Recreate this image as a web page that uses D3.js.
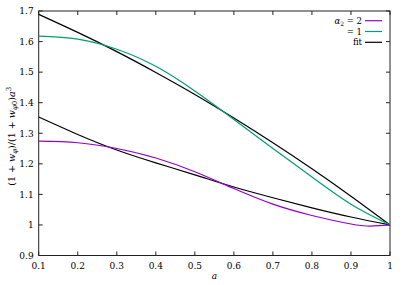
<!DOCTYPE html>
<html><head><meta charset="utf-8">
<script src="https://cdn.jsdelivr.net/npm/d3@7"></script>
<style>body{margin:0;background:#fff} text{font-family:"DejaVu Serif","Liberation Serif",serif}</style>
</head><body><svg id="c" width="407" height="285"></svg>
<script>
const xTicks = [0.1,0.2,0.3,0.4,0.5,0.6,0.7,0.8,0.9,1];
const yTicks = [0.9,1,1.1,1.2,1.3,1.4,1.5,1.6,1.7];
const seriesNames = ["α2 = 2", "= 1", "fit"];
const aGrid = [0.1,0.2,0.3,0.4,0.5,0.6,0.7,0.8,0.9,1.0];
// alpha2 = 2 (purple)
const aPurple = [0.1,0.2,0.3,0.4,0.5,0.6,0.7,0.8,0.9,0.95,1.0];
const vPurple = [1.274,1.269,1.250,1.219,1.174,1.119,1.068,1.031,1.003,0.996,1.0];
// alpha2 = 1 (green)
const vGreen = [1.618,1.608,1.575,1.519,1.438,1.345,1.250,1.157,1.068,1.0];
// fits (black)
const vFitUp = [1.689,1.630,1.567,1.499,1.427,1.350,1.269,1.184,1.094,1.0];
const vFitLo = [1.353,1.296,1.245,1.203,1.164,1.124,1.089,1.056,1.026,1.0];

const svg = d3.select("#c");
const L=38.7, R=390, T=11, B=255.5;
const x = d3.scaleLinear().domain([0.1,1]).range([L,R]);
const y = d3.scaleLinear().domain([0.9,1.7]).range([B,T]);

const ax = svg.append("g").attr("font-size",9).attr("fill","#000");
svg.append("rect").attr("x",L).attr("y",T).attr("width",R-L).attr("height",B-T)
  .attr("fill","none").attr("stroke","#222").attr("stroke-width",1);
xTicks.forEach(t=>{
  svg.append("line").attr("x1",x(t)).attr("x2",x(t)).attr("y1",B).attr("y2",B-4).attr("stroke","#222");
  svg.append("line").attr("x1",x(t)).attr("x2",x(t)).attr("y1",T).attr("y2",T+4).attr("stroke","#222");
  ax.append("text").attr("x",x(t)).attr("y",B+13).attr("text-anchor","middle").text(d3.format("")(t));
});
yTicks.forEach(t=>{
  svg.append("line").attr("x1",L).attr("x2",L+4).attr("y1",y(t)).attr("y2",y(t)).attr("stroke","#222");
  svg.append("line").attr("x1",R).attr("x2",R-4).attr("y1",y(t)).attr("y2",y(t)).attr("stroke","#222");
  ax.append("text").attr("x",L-5).attr("y",y(t)+3.3).attr("text-anchor","end").text(d3.format("")(t));
});
ax.append("text").attr("x",(L+R)/2).attr("y",279).attr("text-anchor","middle")
  .attr("font-style","italic").text("a");
const yl = ax.append("text").attr("font-size",9.5).attr("transform",`translate(15,${(T+B)/2+3}) rotate(-90)`).attr("text-anchor","middle");
yl.append("tspan").text("(1 + ");
yl.append("tspan").attr("font-style","italic").text("w");
yl.append("tspan").attr("font-size",7).attr("dy",2).attr("font-style","italic").text("φ");
yl.append("tspan").attr("dy",-2).text(")/(1 + ");
yl.append("tspan").attr("font-style","italic").text("w");
yl.append("tspan").attr("font-size",7).attr("dy",2).attr("font-style","italic").text("φ");
yl.append("tspan").attr("font-size",7).text("0");
yl.append("tspan").attr("dy",-2).text(")");
yl.append("tspan").attr("font-style","italic").text("a");
yl.append("tspan").attr("font-size",7).attr("dy",-4).text("3");

const line = d3.line().x(d=>x(d[0])).y(d=>y(d[1])).curve(d3.curveNatural);
const zip = (a,b)=>a.map((v,i)=>[v,b[i]]);
const plots = [
  [zip(aGrid,vFitUp),"#000"],
  [zip(aGrid,vFitLo),"#000"],
  [zip(aGrid,vGreen),"#009e73"],
  [zip(aPurple,vPurple),"#9400d3"],
];
svg.append("clipPath").attr("id","cp").append("rect").attr("x",L).attr("y",T).attr("width",R-L).attr("height",B-T);
plots.forEach(([d,c])=>{
  svg.append("path").attr("d",line(d)).attr("fill","none").attr("stroke",c).attr("stroke-width",1.2).attr("clip-path","url(#cp)");
});
const lg = svg.append("g").attr("font-size",8.5);
const colors = ["#9400d3","#009e73","#000"];
const rowsY = [20.7,31.5,42.3];
rowsY.forEach((ry,i)=>{
  lg.append("line").attr("x1",365).attr("x2",382).attr("y1",ry).attr("y2",ry).attr("stroke",colors[i]).attr("stroke-width",1.2);
  const t = lg.append("text").attr("x",362).attr("y",ry+3).attr("text-anchor","end");
  if(i===0){
    t.append("tspan").attr("font-style","italic").text("α");
    t.append("tspan").attr("font-size",6).attr("dy",2).text("2");
    t.append("tspan").attr("dy",-2).text(" = 2");
  } else t.text(seriesNames[i]);
});
</script></body></html>
